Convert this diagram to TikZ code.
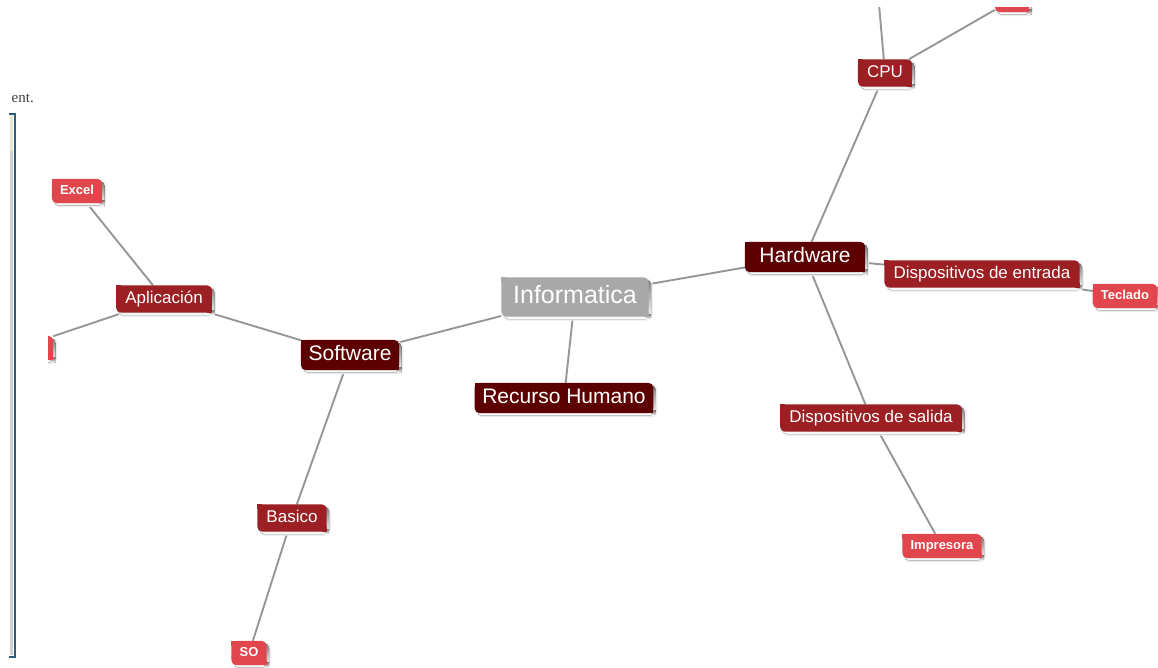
\documentclass[tikz,border=0pt]{standalone}
\usepackage{fontspec}
\setmainfont{Liberation Sans}
\newfontfamily\panelfont{Liberation Serif}
\usepackage{tikz}
\usetikzlibrary{backgrounds, positioning}
\pgfdeclarelayer{boxes}
\pgfsetlayers{background,boxes,main}

\definecolor{mapgray}{RGB}{168,168,168}
\definecolor{mapmaroon}{RGB}{92,0,2}
\definecolor{mapbrick}{RGB}{155,31,35}
\definecolor{mapcoral}{RGB}{224,70,75}
\definecolor{linkgray}{RGB}{150,150,150}
\definecolor{shade}{RGB}{214,214,214}
\definecolor{softshade}{RGB}{234,234,234}
\definecolor{frameblue}{RGB}{45,92,127}
\definecolor{panelbeige}{RGB}{233,228,204}

\tikzset{
  mapbox/.style={rectangle, text=white, inner ysep=0pt,
    append after command={\pgfextra{%
      \begin{pgfonlayer}{boxes}
        \fill[softshade, rounded corners=6pt]
          ([shift={(1.5pt,-1.5pt)}]\tikzlastnode.north west) rectangle
          ([shift={(4pt,-4pt)}]\tikzlastnode.south east);
        \fill[shade, rounded corners=5pt]
          ([shift={(2.5pt,-2.5pt)}]\tikzlastnode.north west) rectangle
          ([shift={(2.5pt,-2.5pt)}]\tikzlastnode.south east);
        \fill[shade] ([shift={(2.5pt,-2.5pt)}]\tikzlastnode.south east) rectangle +(-5pt,5pt);
        \fill[#1, rounded corners=5pt] (\tikzlastnode.north west) rectangle (\tikzlastnode.south east);
        \fill[#1] (\tikzlastnode.north west) rectangle +(5pt,-5pt);
        \fill[#1] (\tikzlastnode.south east) rectangle +(-5pt,5pt);
      \end{pgfonlayer}}}}
}
\tikzstyle{central}=[mapbox=mapgray, font=\fontsize{25}{30}\selectfont, text height=17pt, text depth=5pt, minimum width=147pt, minimum height=39pt]
\tikzstyle{branch}=[mapbox=mapmaroon, font=\fontsize{21}{25}\selectfont, text height=14.5pt, text depth=4.4pt, inner xsep=7.5pt, minimum height=30pt]
\tikzstyle{twig}=[mapbox=mapbrick, font=\fontsize{17}{20}\selectfont, text height=12pt, text depth=3.6pt, inner xsep=9pt, minimum height=27pt]
\tikzstyle{leaf}=[mapbox=mapcoral, font=\bfseries\fontsize{13}{16}\selectfont, text height=9.4pt, text depth=2.8pt, inner xsep=8pt, minimum height=24pt]
\tikzstyle{link}=[draw=linkgray, line width=1.9pt]

\begin{document}
\begin{tikzpicture}[x=1pt, y=-1pt, node distance=100pt]
  \useasboundingbox (0,0) rectangle (1158,668);

  \node[central] (info) at (575,297) {Informatica};
  \node[branch, minimum width=120pt] (hw) [right of=info, xshift=130pt, yshift=40pt] {Hardware};
  \node[branch] (rh) [below of=info, xshift=-11pt, yshift=-1pt] {Recurso Humano};
  \node[branch] (sw) [left of=info, xshift=-125pt, yshift=-58pt] {Software};

  \node[twig] (apl) [left of=sw, xshift=-86pt, yshift=56pt] {Aplicación};
  \node[twig] (bas) [below of=sw, xshift=-58pt, yshift=-63pt] {Basico};
  \node[twig] (cpu) [above of=hw, xshift=80pt, yshift=84pt] {CPU};
  \node[twig] (din) [right of=hw, xshift=77pt, yshift=-17pt] {Dispositivos de entrada};
  \node[twig] (dsal) [below of=hw, xshift=66pt, yshift=-61pt] {Dispositivos de salida};

  \node[leaf] (exc) [above of=apl, xshift=-87pt, yshift=8pt] {Excel};
  \node[leaf, minimum width=70pt] (apl2) [left of=apl, xshift=-46pt, yshift=-49pt] {};
  \node[leaf] (so) [below of=bas, xshift=-43pt, yshift=-35pt] {SO};
  \node[leaf, minimum width=34pt] (cpu2) [right of=cpu, xshift=27pt, yshift=73pt] {};
  \coordinate[above of=cpu, xshift=-9pt, yshift=3pt] (cpu1);
  \node[leaf] (tec) [right of=din, xshift=43pt, yshift=-22pt] {Teclado};
  \node[leaf] (imp) [below of=dsal, xshift=71pt, yshift=-28pt] {Impresora};

  \begin{scope}[on background layer]
    \path[link] (info) edge (hw) edge (rh) edge (sw);
    \path[link] (sw) edge (apl) edge (bas);
    \path[link] (apl) edge (exc) edge (apl2);
    \path[link] (bas) edge (so);
    \path[link] (hw) edge (cpu) edge (din) edge (dsal);
    \path[link] (cpu) edge (cpu1) edge (cpu2);
    \path[link] (din) edge (tec);
    \path[link] (dsal) edge (imp);
  \end{scope}

  % edge of the view
  \fill[white] (-1,-1) rectangle (48,669);
  \fill[white] (-1,-1) rectangle (1159,7);

  % side panel
  \fill[panelbeige] (10,115) rectangle (13,151);
  \fill[black!18] (10,151) rectangle (13,655);
  \draw[frameblue, line width=2pt] (9,114) -- (14.5,114) -- (14.5,656.5) -- (9,656.5);
  \node[font=\panelfont\fontsize{15}{18}\selectfont, text=black!75, anchor=base east, inner sep=0pt] (hint) at (34,103) {ent.};
\end{tikzpicture}
\end{document}
